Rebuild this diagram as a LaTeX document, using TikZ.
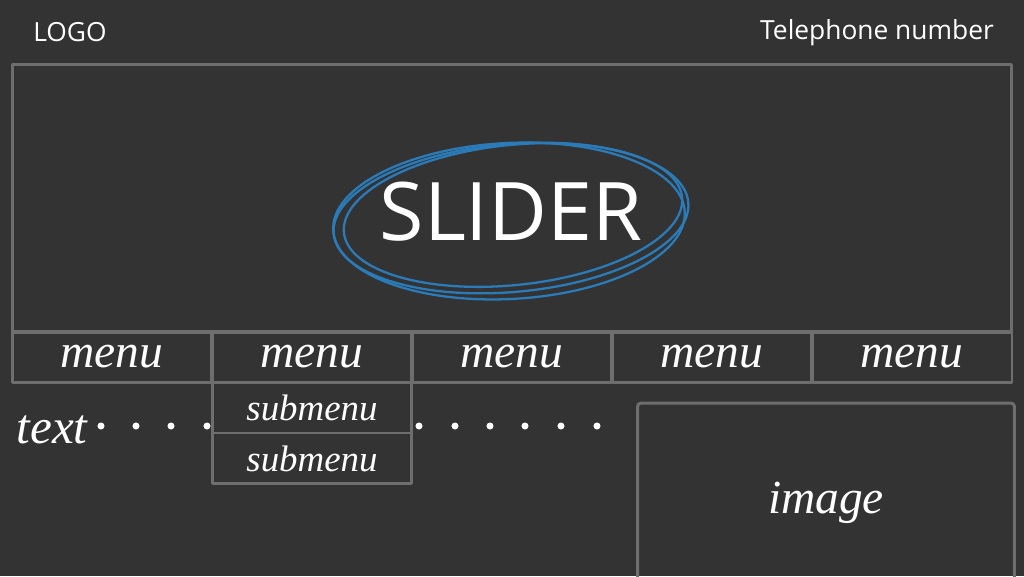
\documentclass[tikz,border=0pt]{standalone}
\usepackage{fontspec}
\setmainfont{Liberation Serif}
\newfontfamily\printfont{Open Sans}
\usetikzlibrary{positioning}
\definecolor{boardbg}{HTML}{333333}
\definecolor{chalkgray}{HTML}{6E6E6E}
\definecolor{markerblue}{HTML}{2A7BB8}
\begin{document}
\begin{tikzpicture}[x=0.02cm, y=-0.02cm, line join=round, line cap=round,
	cell/.style={draw=chalkgray, line width=1.7pt, minimum width=4cm, minimum height=1cm, inner sep=0pt, outer sep=0pt, text=white, font=\itshape\fontsize{27}{27}\selectfont},
	subcell/.style={cell, minimum height=1.02cm, font=\itshape\fontsize{21}{21}\selectfont},
	hand/.style={text=white, inner sep=0pt, font=\printfont\fontsize{15}{15}\selectfont},
	ring/.style={draw=markerblue, line width=1.3pt}]
	\def\W{1024} \def\H{576}
	\fill[boardbg] (0,0) rectangle (\W,\H);
	\clip (0,0) rectangle (\W,\H);
	% header
	\node[hand] (logo) at (70,32) {LOGO};
	\node[hand] (phone) at (877,33) {Telephone number};
	% slider
	\node[draw=chalkgray, line width=1.7pt, minimum width=20cm, minimum height=5.36cm, inner sep=0pt] (slider) at (512,198) {};
	\node[text=white, font=\printfont\fontsize{46}{46}\selectfont] (slidertext) at (511,212) {SLIDER};
	\draw[ring] (511,218) ellipse [x radius=178, y radius=74, rotate=5];
	\draw[ring] (513,215) ellipse [x radius=170, y radius=70, rotate=6];
	\draw[ring] (509,221) ellipse [x radius=176, y radius=78, rotate=3];
	% menu bar
	\foreach \i in {1,...,5}
		\node[cell] (menu\i) at ({12+100+(\i-1)*200},357) {menu};
	\node[subcell, below=0pt of menu2] (sub1) {submenu};
	\node[subcell, below=0pt of sub1] (sub2) {submenu};
	% text line
	\node[text=white, inner sep=0pt, font=\itshape\fontsize{28}{28}\selectfont] (txt) at (52,430) {text};
	\foreach \x in {101,136,171,207,419,455,490,525,561,597}
		\fill[white] (\x,426) circle (2pt);
	% image
	\node[draw=chalkgray, line width=1.7pt, rounded corners=2pt, minimum width=7.54cm, minimum height=4cm, inner sep=0pt, text=white, font=\itshape\fontsize{27}{27}\selectfont] (image) at (826,503) {image};
\end{tikzpicture}
\end{document}
